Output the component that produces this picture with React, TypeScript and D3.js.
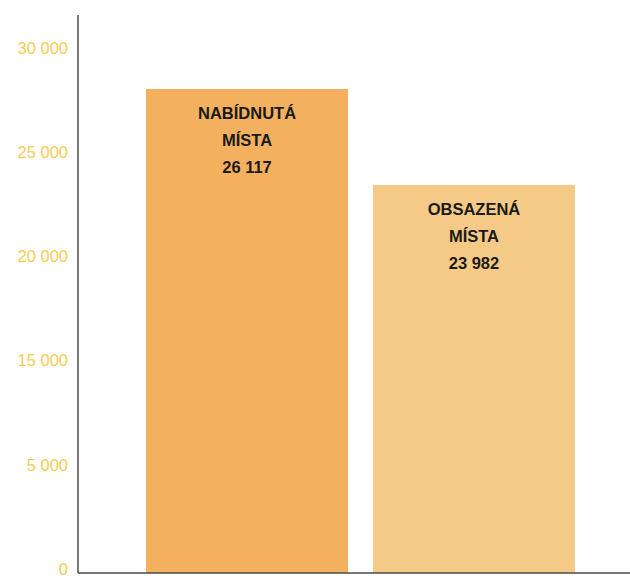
import React from "react";
import * as d3 from "d3";

const categories = ["NABÍDNUTÁ|MÍSTA", "OBSAZENÁ|MÍSTA"];
const values = [26117, 23982];
const valueLabels = ["26 117", "23 982"];
const tickLabels = ["0", "5 000", "15 000", "20 000", "25 000", "30 000"];
const barColors = ["#F3B05E", "#F5CA87"];

const W = 630;
const H = 578;
const axisX = 78;
const baseY = 573;
const topY = 15;

export default function App() {
  const x = d3.scaleBand<string>().domain(categories).range([146, 575]).paddingInner(0.11).paddingOuter(0);
  // value scale (baseline of the printed chart is truncated)
  const y = d3.scaleLinear().domain([15353, 27029]).range([baseY, 48]);
  // tick labels are evenly spaced in the original
  const yt = d3.scalePoint<string>().domain(tickLabels).range([569, 48]);

  return (
    <svg width={W} height={H} style={{ position: "absolute", left: 0, top: 0, background: "#fff" }}>
      {categories.map((c, i) => {
        const bx = x(c)!;
        const bw = x.bandwidth();
        const top = y(values[i]);
        const cx = bx + bw / 2;
        const lines = [...c.split("|"), valueLabels[i]];
        return (
          <g key={c}>
            <rect x={bx} y={top} width={bw} height={baseY - top} fill={barColors[i]} />
            {lines.map((t, j) => (
              <text
                key={j}
                x={cx}
                y={top + 24 + j * 27}
                dy="0.35em"
                textAnchor="middle"
                fontFamily="'Liberation Sans Narrow', 'Liberation Sans', Arial, sans-serif"
                fontWeight="bold"
                fontSize={16.5}
                fill="#1a1a1a"
              >
                {t}
              </text>
            ))}
          </g>
        );
      })}
      {tickLabels.map((t) => (
        <text
          key={t}
          x={68}
          y={yt(t)!}
          dy="0.35em"
          textAnchor="end"
          fontFamily="'Liberation Sans Narrow', 'Liberation Sans', Arial, sans-serif"
          fontSize={16.5}
          fill="#F4CC55"
        >
          {t}
        </text>
      ))}
      <line x1={axisX} x2={axisX} y1={topY} y2={baseY} stroke="#4a4a4a" strokeWidth={1.5} />
      <line x1={axisX} x2={W} y1={baseY} y2={baseY} stroke="#4a4a4a" strokeWidth={1.5} />
    </svg>
  );
}
